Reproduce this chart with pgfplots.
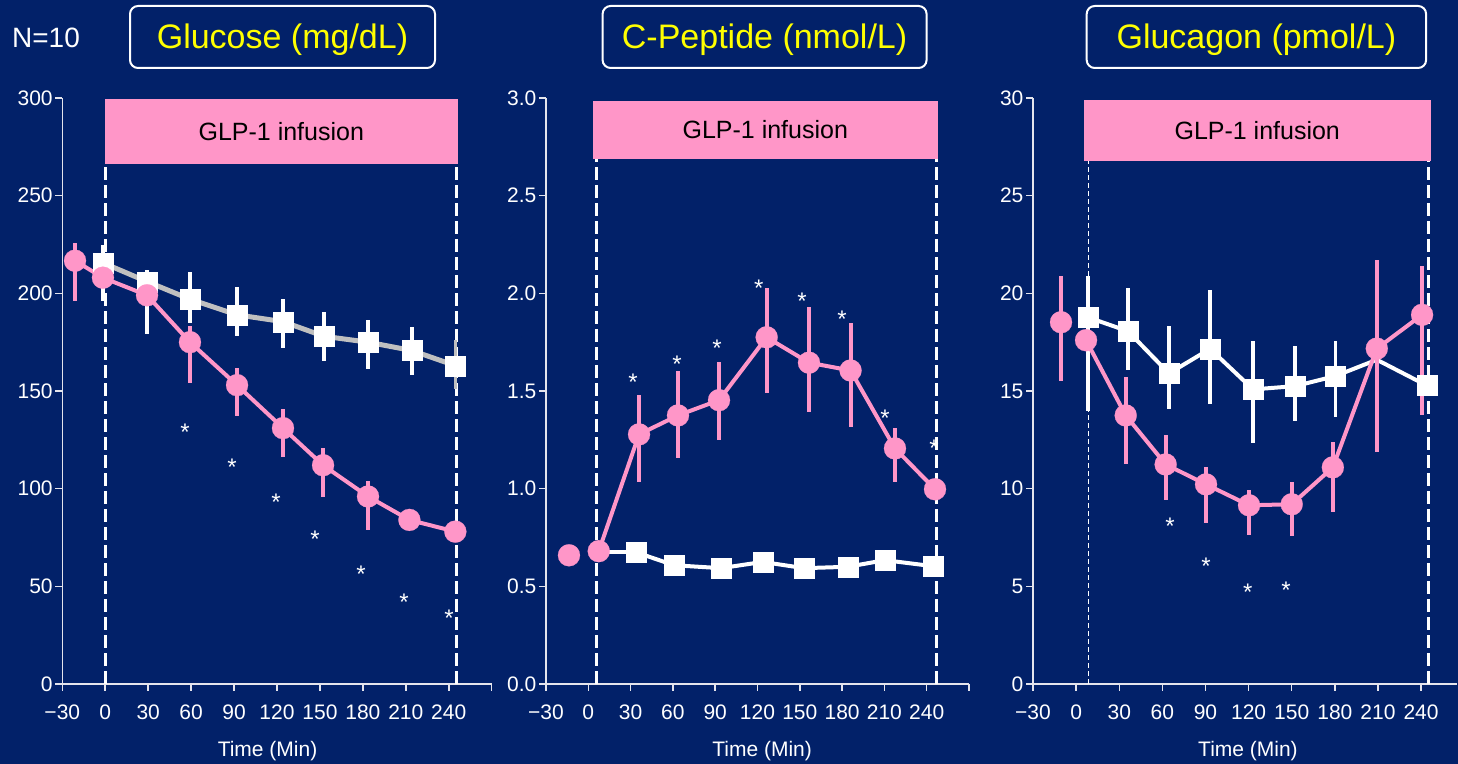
\documentclass[border=0pt]{standalone}
\usepackage{fontspec}
\setmainfont{Liberation Sans}
\usepackage{pgfplots}
\pgfplotsset{compat=1.18}
\definecolor{bg}{HTML}{022169}
\definecolor{pinkc}{HTML}{FF96C8}
\definecolor{grayc}{HTML}{C0C0C0}
\definecolor{axc}{HTML}{E4E4EC}
\definecolor{ttl}{HTML}{FFFF00}
\pgfplotsset{
 panel/.style={
  scale only axis, anchor=south west, clip=false,
  axis lines*=left, axis line style={-, draw=axc, line width=0.75bp},
  tick align=outside, major tick length=3.5bp,
  tick style={draw=axc, line width=0.75bp},
  ymin=0, xmin=-30, xmax=270, height=293bp,
  xtick={-30,0,...,270},
  xticklabels={−30,0,30,60,90,120,150,180,210,240,},
  ticklabel style={font=\fontsize{10.5bp}{12bp}\selectfont, text=white},
  xticklabel style={yshift=-3.5bp},
  yticklabel style={xshift=2.2bp},
  xlabel={Time (Min)},
  label style={font=\fontsize{10.5bp}{12bp}\selectfont, text=white},
 },
 perr/.style={error bars/.cd, y dir=both, y explicit, error mark=none,
   error bar style={line width=2bp, draw=pinkc, solid}},
 werr/.style={error bars/.cd, y dir=both, y explicit, error mark=none,
   error bar style={line width=1.6bp, draw=white, solid}},
 pline/.style={draw=pinkc, line width=2bp, mark=*, mark size=5.5bp,
   mark options={fill=pinkc, draw=pinkc, line width=0.1bp}},
 wline/.style={draw=white, line width=2bp, mark=square*, mark size=5bp,
   mark options={fill=white, draw=white, line width=0.1bp}},
 stars/.style={draw=none, mark=text, text mark={*}, text mark as node=true,
   text mark style={font=\fontsize{12bp}{12bp}\selectfont, text=white, anchor=base, yshift=-7bp, inner sep=0pt}},
 box/.style={draw=none, fill=pinkc},
 dline/.style={draw=white, line width=1.5bp, dash pattern=on 6.5bp off 2.5bp},
}
\tikzset{tbox/.style={draw=white, line width=1bp, rounded corners=4bp, minimum height=31bp},
  ttext/.style={text=ttl, font=\fontsize{17bp}{20bp}\selectfont, yshift=-1.2bp}}
\begin{document}
\begin{tikzpicture}
\useasboundingbox (0,0) rectangle (729bp,382bp);
\fill[bg] (0,0) rectangle (729bp,382bp);

\node[text=white, font=\fontsize{14bp}{16bp}\selectfont] at (23bp,363bp) {N=10};
\node[tbox, minimum width=152.5bp] at (141.25bp,363.5bp) {};
\node[ttext] at (141.25bp,363.5bp) {Glucose (mg/dL)};
\node[tbox, minimum width=162bp] at (382.3bp,363.5bp) {};
\node[ttext] at (382.3bp,363.5bp) {C-Peptide (nmol/L)};
\node[tbox, minimum width=169.7bp] at (628.2bp,363.5bp) {};
\node[ttext] at (628.2bp,363.5bp) {Glucagon (pmol/L)};

% ---------------- Panel 1: Glucose
\begin{axis}[panel, at={(31.15bp,40bp)}, width=214.7bp, ymax=300,
  ytick={0,50,...,300}, yticklabels={0,50,100,150,200,250,300},
  xlabel style={at={(axis description cs:0.478,0)}, anchor=center, yshift=-33.4bp}]
\addplot[box] coordinates {(0,266) (246.5,266) (246.5,299.4) (0,299.4)} -- cycle;
\node[font=\fontsize{12.5bp}{14bp}\selectfont, text=black] at (axis cs:123,283) {GLP-1 infusion};
\addplot[dline] coordinates {(0,0) (0,266)};
\addplot[dline] coordinates {(245.1,0) (245.1,266)};
% gray error bar of last control point
\addplot[draw=none, mark=none, error bars/.cd, y dir=both, y explicit, error mark=none,
   error bar style={line width=1.6bp, draw=grayc, solid}]
  table[x=x, y=y, y error plus expr=\thisrow{hi}-\thisrow{y}, y error minus expr=\thisrow{y}-\thisrow{lo}] {
x y hi lo
244.6 163 176 151
};
\addplot[wline, draw=grayc, line width=2.5bp, werr]
  table[x=x, y=y, y error plus expr=\thisrow{hi}-\thisrow{y}, y error minus expr=\thisrow{y}-\thisrow{lo}] {
x y hi lo
-1.6 215.6 225 196
29.2 206 212 179
59.2 197 211 185
92.1 189 203 178
124.2 185.5 197 172
152.9 178 190.5 165.6
183.6 175 186.5 161.5
214.3 170.7 183 158
244.6 163 163 163
};
\addplot[pline, perr]
  table[x=x, y=y, y error plus expr=\thisrow{hi}-\thisrow{y}, y error minus expr=\thisrow{y}-\thisrow{lo}] {
x y hi lo
-21.1 216.7 226 196
-1.6 208 208 208
29.2 199 199 199
59.2 175 183.5 154
92.1 153 162 137
124.2 131 141 116
152.2 112 120.6 95.6
183.6 96 104 79
212.5 84 84 84
244.6 78 78 78
};
\addplot[stars] coordinates {(55.7,132) (88.6,114) (119.3,96) (146.6,77) (178.7,59) (208.8,44.6) (240.2,36.4)};
\end{axis}

% ---------------- Panel 2: C-Peptide
\begin{axis}[panel, at={(273bp,40bp)}, width=211.5bp, ymax=3,
  ytick={0,0.5,...,3}, yticklabels={0.0,0.5,1.0,1.5,2.0,2.5,3.0},
  xlabel style={at={(axis description cs:0.511,0)}, anchor=center, yshift=-33.4bp}]
\addplot[box] coordinates {(3.1,2.689) (247.8,2.689) (247.8,2.985) (3.1,2.985)} -- cycle;
\node[font=\fontsize{12.5bp}{14bp}\selectfont, text=black] at (axis cs:125.5,2.837) {GLP-1 infusion};
\addplot[dline] coordinates {(5.5,0) (5.5,2.689)};
\addplot[dline] coordinates {(247,0) (247,2.689)};
\addplot[draw=white, line width=2bp, mark=none] coordinates {(7.4,0.675) (33.6,0.675)};
\addplot[wline] coordinates {
(33.6,0.675) (60.8,0.608) (94.1,0.593) (123.7,0.625) (153,0.593) (184,0.600) (210.4,0.634) (244.5,0.603)};
\addplot[pline, draw=none] coordinates {(-13.7,0.659)};
\addplot[pline, perr]
  table[x=x, y=y, y error plus expr=\thisrow{hi}-\thisrow{y}, y error minus expr=\thisrow{y}-\thisrow{lo}] {
x y hi lo
7.4 0.680 0.680 0.680
36 1.278 1.477 1.032
63.6 1.375 1.600 1.155
92.7 1.453 1.646 1.247
126.5 1.775 2.029 1.492
156.5 1.645 1.932 1.395
186 1.605 1.850 1.318
217.5 1.206 1.313 1.032
245.9 0.997 0.997 0.997
};
\addplot[stars] coordinates {(31.7,1.574) (62.9,1.666) (91.3,1.748) (121,2.054) (151.6,1.988) (180,1.896) (210.4,1.39) (245.2,1.237)};
\end{axis}

% ---------------- Panel 3: Glucagon
\begin{axis}[panel, at={(516.5bp,40bp)}, width=212bp, xmax=265, ymax=30,
  ytick={0,5,...,30}, yticklabels={0,5,10,15,20,25,30},
  xlabel style={at={(axis description cs:0.507,0)}, anchor=center, yshift=-33.4bp}]
\addplot[box] coordinates {(5.5,26.8) (246.8,26.8) (246.8,29.9) (5.5,29.9)} -- cycle;
\node[font=\fontsize{12.5bp}{14bp}\selectfont, text=black] at (axis cs:126,28.35) {GLP-1 infusion};
\addplot[draw=white, line width=0.6bp, dash pattern=on 2.5bp off 1.5bp] coordinates {(8.5,0) (8.5,26.8)};
\addplot[dline] coordinates {(244.9,0) (244.9,26.8)};
\addplot[draw=white, line width=2bp, mark=none] coordinates {
(8.3,18.77) (36.1,18.06) (64.6,15.9) (93.2,17.16) (123.1,15.08) (152.3,15.25) (180.2,15.76) (209.2,16.6) (244,15.28)};
\addplot[wline, draw=none, werr]
  table[x=x, y=y, y error plus expr=\thisrow{hi}-\thisrow{y}, y error minus expr=\thisrow{y}-\thisrow{lo}] {
x y hi lo
8.3 18.77 20.9 13.97
36.1 18.06 20.27 16.07
64.6 15.9 18.31 14.09
93.2 17.16 20.15 14.31
123.1 15.08 17.58 12.32
152.3 15.25 17.29 13.46
180.2 15.76 17.58 13.68
244 15.28 15.28 15.28
};
\addplot[pline, draw=none, perr]
  table[x=x, y=y, y error plus expr=\thisrow{hi}-\thisrow{y}, y error minus expr=\thisrow{y}-\thisrow{lo}] {
x y hi lo
-10.5 18.52 20.9 15.5
};
\addplot[pline, perr]
  table[x=x, y=y, y error plus expr=\thisrow{hi}-\thisrow{y}, y error minus expr=\thisrow{y}-\thisrow{lo}] {
x y hi lo
6.9 17.6 17.6 17.6
34.5 13.75 15.74 11.24
62.3 11.24 12.73 9.42
90.4 10.22 11.09 8.23
120.3 9.15 9.93 7.63
150 9.2 10.34 7.58
178.6 11.09 12.38 8.81
209.2 17.17 21.72 11.87
240.7 18.9 21.38 13.76
};
\addplot[stars] coordinates {(65.3,8.35) (90.4,6.3) (119.4,4.97) (146.1,5.07)};
\end{axis}
\end{tikzpicture}
\end{document}
